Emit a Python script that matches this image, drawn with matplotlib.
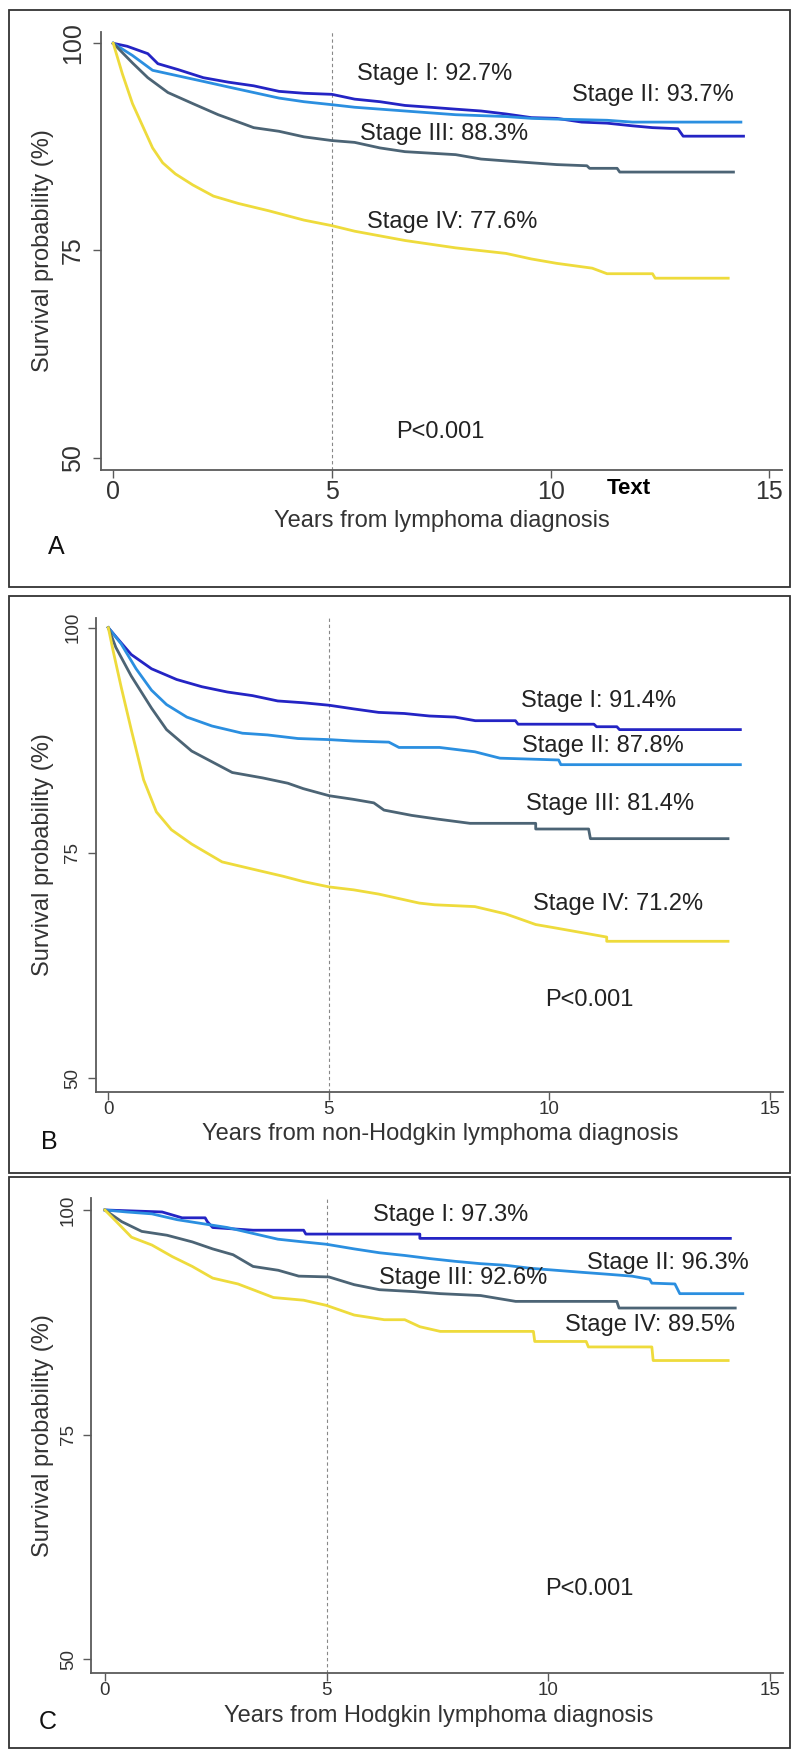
import matplotlib
matplotlib.use("Agg")
import matplotlib.pyplot as plt
from matplotlib.patches import Rectangle

plt.rcParams['font.family'] = ['Liberation Sans', 'DejaVu Sans']

W, H = 793, 1750

stage_names = ["Stage I", "Stage II", "Stage III", "Stage IV"]
stage_colors = ["#2424c4", "#2b8fe0", "#4c6475", "#eedb3c"]

# panel A - all lymphoma
a_stage1_t = [0, 0.32, 0.79, 1.02, 1.48, 2.06, 2.63, 3.21, 3.79, 4.36, 5.0, 5.52, 6.1, 6.67, 7.25, 7.83, 8.41, 8.98, 9.56, 10.14, 10.71, 11.29, 11.87, 12.33, 12.91, 13.03, 14.41]
a_stage1_s = [100, 99.64, 98.75, 97.54, 96.83, 95.85, 95.31, 94.87, 94.2, 93.97, 93.84, 93.26, 92.95, 92.5, 92.28, 92.05, 91.83, 91.47, 91.03, 90.94, 90.49, 90.36, 90.04, 89.82, 89.69, 88.79, 88.79]
a_stage2_t = [0, 0.44, 0.9, 1.48, 2.06, 2.63, 3.21, 3.79, 4.36, 5.0, 5.52, 6.67, 7.83, 8.98, 9.56, 10.14, 11.29, 11.87, 14.35]
a_stage2_s = [100, 98.53, 96.74, 96.07, 95.4, 94.73, 94.06, 93.39, 92.95, 92.59, 92.28, 91.83, 91.38, 91.16, 90.94, 90.85, 90.71, 90.49, 90.49]
a_stage3_t = [0, 0.44, 0.79, 1.25, 1.82, 2.4, 2.98, 3.21, 3.79, 4.36, 5.0, 5.52, 6.1, 6.67, 7.83, 8.41, 8.98, 9.56, 10.14, 10.83, 10.89, 11.52, 11.58, 14.18]
a_stage3_s = [100, 97.63, 95.85, 94.06, 92.72, 91.38, 90.27, 89.82, 89.38, 88.71, 88.26, 88.04, 87.37, 86.92, 86.56, 86.03, 85.8, 85.58, 85.36, 85.22, 84.91, 84.91, 84.46, 84.46]
a_stage4_t = [0, 0.21, 0.44, 0.67, 0.9, 1.13, 1.42, 1.82, 2.29, 2.86, 3.56, 4.36, 5.0, 5.52, 6.67, 7.83, 8.98, 9.56, 10.14, 10.95, 11.29, 12.33, 12.39, 14.06]
a_stage4_s = [100, 96.29, 92.72, 90.04, 87.37, 85.58, 84.24, 82.9, 81.56, 80.67, 79.78, 78.66, 77.99, 77.32, 76.2, 75.31, 74.64, 73.97, 73.44, 72.86, 72.19, 72.19, 71.65, 71.65]
a_labels = ["Stage I: 92.7%", "Stage II: 93.7%", "Stage III: 88.3%", "Stage IV: 77.6%"]

# panel B - non-Hodgkin lymphoma
b_stage1_t = [0, 0.17, 0.52, 0.98, 1.55, 2.12, 2.7, 3.27, 3.84, 4.42, 5.01, 5.56, 6.13, 6.71, 7.28, 7.86, 8.32, 9.23, 9.29, 11.01, 11.07, 11.53, 11.59, 14.33]
b_stage1_s = [100, 99.01, 97.02, 95.44, 94.25, 93.45, 92.86, 92.46, 91.87, 91.67, 91.39, 90.99, 90.6, 90.48, 90.2, 90.08, 89.68, 89.68, 89.29, 89.29, 89.01, 89.01, 88.69, 88.69]
b_stage2_t = [0, 0.29, 0.63, 0.98, 1.32, 1.78, 2.35, 3.04, 3.61, 4.3, 5.01, 5.56, 6.36, 6.59, 7.51, 8.31, 8.88, 10.21, 10.26, 14.33]
b_stage2_s = [100, 98.21, 95.44, 93.06, 91.47, 90.08, 89.09, 88.29, 88.1, 87.7, 87.58, 87.42, 87.3, 86.71, 86.71, 86.23, 85.52, 85.32, 84.8, 84.8]
b_stage3_t = [0, 0.17, 0.52, 0.98, 1.32, 1.89, 2.35, 2.81, 3.5, 4.07, 4.42, 5.01, 5.56, 6.02, 6.25, 6.88, 7.45, 8.2, 9.69, 9.69, 10.89, 10.93, 14.05]
b_stage3_s = [100, 97.82, 94.64, 91.07, 88.69, 86.31, 85.12, 83.93, 83.33, 82.74, 82.14, 81.35, 80.95, 80.56, 79.76, 79.17, 78.77, 78.29, 78.29, 77.66, 77.66, 76.59, 76.59]
b_stage4_t = [0, 0.11, 0.29, 0.52, 0.8, 1.09, 1.43, 1.89, 2.58, 3.27, 3.96, 4.42, 5.01, 5.56, 6.13, 7.05, 7.4, 8.31, 9.0, 9.23, 9.69, 10.15, 10.84, 11.3, 11.3, 14.05]
b_stage4_s = [100, 97.42, 93.45, 88.69, 83.13, 79.56, 77.58, 75.99, 74.01, 73.21, 72.42, 71.83, 71.23, 70.91, 70.44, 69.44, 69.25, 69.05, 68.25, 67.86, 67.06, 66.67, 66.07, 65.67, 65.2, 65.2]
b_labels = ["Stage I: 91.4%", "Stage II: 87.8%", "Stage III: 81.4%", "Stage IV: 71.2%"]

# panel C - Hodgkin lymphoma
c_stage1_t = [0, 1.29, 1.74, 2.26, 2.31, 2.43, 3.34, 4.48, 4.53, 7.1, 7.1, 14.1]
c_stage1_s = [100, 99.78, 99.13, 99.13, 98.7, 98.05, 97.75, 97.75, 97.32, 97.32, 96.84, 96.84]
c_stage2_t = [0, 0.49, 1.06, 1.63, 2.2, 2.76, 3.33, 3.9, 4.47, 4.99, 5.62, 6.19, 6.76, 7.33, 7.89, 8.46, 9.03, 9.6, 10.17, 10.74, 11.31, 11.88, 12.28, 12.33, 12.85, 12.96, 14.38]
c_stage2_s = [100, 99.78, 99.57, 98.92, 98.48, 98.05, 97.4, 96.75, 96.45, 96.19, 95.67, 95.24, 94.94, 94.59, 94.29, 94.03, 93.85, 93.51, 93.29, 93.07, 92.86, 92.64, 92.29, 91.86, 91.77, 90.69, 90.69]
c_stage3_t = [0, 0.38, 0.83, 1.4, 1.97, 2.43, 2.89, 3.34, 3.91, 4.37, 5.05, 5.62, 6.19, 6.99, 7.56, 8.47, 9.26, 11.54, 11.59, 14.21]
c_stage3_s = [100, 98.7, 97.62, 97.19, 96.45, 95.67, 95.02, 93.72, 93.29, 92.64, 92.55, 91.69, 91.13, 90.91, 90.69, 90.48, 89.83, 89.83, 89.09, 89.09]
c_stage4_t = [0, 0.26, 0.6, 1.06, 1.52, 1.97, 2.43, 3.0, 3.34, 3.8, 4.48, 4.99, 5.62, 6.3, 6.76, 7.1, 7.56, 9.66, 9.69, 10.85, 10.9, 12.33, 12.36, 14.05]
c_stage4_s = [100, 98.7, 96.97, 96.1, 94.81, 93.72, 92.42, 91.77, 91.13, 90.26, 89.96, 89.39, 88.31, 87.79, 87.79, 87.01, 86.49, 86.49, 85.37, 85.37, 84.76, 84.76, 83.25, 83.25]
c_labels = ["Stage I: 97.3%", "Stage II: 96.3%", "Stage III: 92.6%", "Stage IV: 89.5%"]

x_ticks = [0, 5, 10, 15]
y_ticks = [50, 75, 100]
p_text = "P<0.001"
y_title = "Survival probability (%)"


def px(x, y):
    return x / W, 1 - y / H


def make_panel(box, ax_box, xlim, ylim, curves, labels, label_pos, p_pos,
               xlabel, xlabel_pos, letter, letter_pos, tick_size, ylab_pad):
    fig.add_artist(Rectangle(px(box[0], box[3]), (box[2] - box[0]) / W, (box[3] - box[1]) / H,
                             transform=fig.transFigure, fill=False, ec="#333333", lw=1.3))
    l, b = px(ax_box[0], ax_box[3])
    r, t = px(ax_box[2], ax_box[1])
    ax = fig.add_axes([l, b, r - l, t - b])
    ax.axvline(5, color="#888888", lw=0.8, ls=(0, (3, 2.5)))
    for (tt, ss), col in zip(curves, stage_colors):
        ax.plot(tt, ss, color=col, lw=2.0, solid_joinstyle="round")
    for txt, (x, y) in zip(labels, label_pos):
        ax.text(x, y, txt, fontsize=17, color="#222222", ha="left", va="center")
    ax.text(p_pos[0], p_pos[1], p_text, fontsize=17, color="#222222", ha="left", va="center")
    ax.set_xlim(*xlim)
    ax.set_ylim(*ylim)
    ax.set_xticks(x_ticks)
    ax.set_yticks(y_ticks)
    for s in ["top", "right"]:
        ax.spines[s].set_visible(False)
    for s in ["left", "bottom"]:
        ax.spines[s].set_color("#5a5a5a")
        ax.spines[s].set_linewidth(1.3)
    ax.tick_params(axis="both", length=5.5, width=1, color="#5a5a5a",
                   labelsize=tick_size, labelcolor="#333333")
    ax.tick_params(axis="x", pad=1.5)
    ax.tick_params(axis="y", pad=ylab_pad, labelrotation=90)
    for lab in ax.get_yticklabels():
        lab.set_va("center")
    fig.text(*px(*xlabel_pos), xlabel, fontsize=17, color="#333333", ha="center", va="center")
    fig.text(*px(43, (ax_box[1] + ax_box[3]) / 2 + 0), y_title, fontsize=17, color="#333333",
             rotation=90, ha="center", va="center")
    fig.text(*px(*letter_pos), letter, fontsize=18, color="#111111", ha="center", va="center")
    return ax


fig = plt.figure(figsize=(W / 100, H / 100), dpi=100)

axA = make_panel((9, 10, 790, 587), (101, 31.7, 782, 470), (-0.28, 15.29), (48.5, 101.4),
                 [(a_stage1_t, a_stage1_s), (a_stage2_t, a_stage2_s), (a_stage3_t, a_stage3_s), (a_stage4_t, a_stage4_s)],
                 a_labels, [(5.57, 96.29), (10.49, 93.76), (5.64, 89.05), (5.80, 78.42)], (6.46, 53.06),
                 "Years from lymphoma diagnosis", (441.5, 521), "A", (56, 547), 18, 6)
axA.text(11.29, 46.3, "Text", fontsize=16, fontweight="bold", color="black",
         ha="left", va="center", clip_on=False)

make_panel((9, 596, 790, 1173), (96, 617.5, 782.7, 1091.7), (-0.279, 15.29), (48.51, 101.13),
           [(b_stage1_t, b_stage1_s), (b_stage2_t, b_stage2_s), (b_stage3_t, b_stage3_s), (b_stage4_t, b_stage4_s)],
           b_labels, [(9.36, 91.82), (9.39, 86.87), (9.47, 80.40), (9.64, 69.31)], (9.90, 58.73),
           "Years from non-Hodgkin lymphoma diagnosis", (440, 1134), "B", (49.5, 1141.7), 13.5, 5)

make_panel((9, 1177, 790, 1748), (90.7, 1198.4, 782.7, 1672.7), (-0.32, 15.28), (48.51, 101.29),
           [(c_stage1_t, c_stage1_s), (c_stage2_t, c_stage2_s), (c_stage3_t, c_stage3_s), (c_stage4_t, c_stage4_s)],
           c_labels, [(6.05, 99.48), (10.86, 94.15), (6.19, 92.42), (10.37, 87.22)], (9.92, 57.78),
           "Years from Hodgkin lymphoma diagnosis", (438.4, 1716), "C", (47.5, 1721.7), 13.5, 4.5)

fig.savefig("out.png", dpi=100, facecolor="white")
